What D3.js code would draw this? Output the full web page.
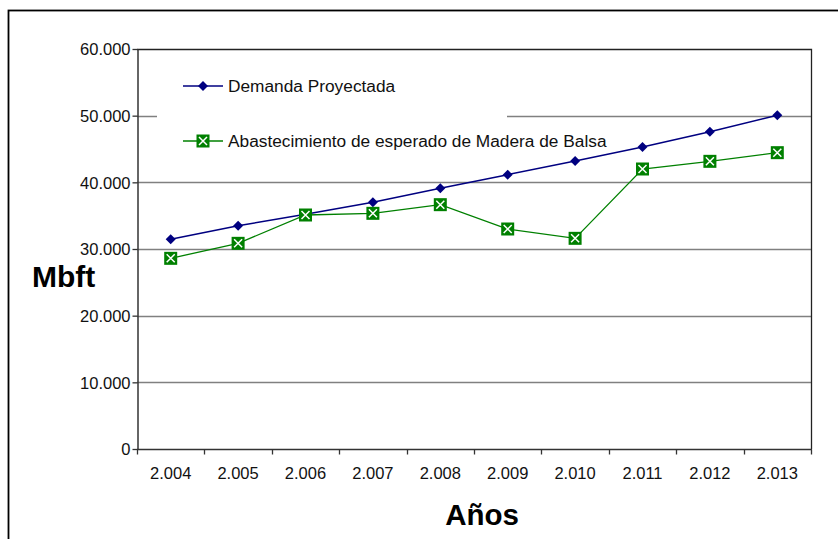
<!DOCTYPE html>
<html>
<head>
<meta charset="utf-8">
<script src="https://cdn.jsdelivr.net/npm/d3@7"></script>
<style>
  html, body { margin: 0; padding: 0; background: #fff; }
  svg { display: block; font-family: "Liberation Sans", Arial, sans-serif; }
</style>
</head>
<body>
<svg id="chart" width="838" height="539"></svg>
<script>
// Years on the category axis
const years = ["2.004", "2.005", "2.006", "2.007", "2.008", "2.009", "2.010", "2.011", "2.012", "2.013"];
// Projected demand (Mbft)
const demanda = [31450, 33500, 35200, 37000, 39100, 41150, 43200, 45300, 47600, 50050];
// Expected balsa wood supply (Mbft)
const abastecimiento = [28600, 30850, 35100, 35350, 36650, 33000, 31600, 42000, 43150, 44450];
// Value axis ticks
const yTicks = [0, 10000, 20000, 30000, 40000, 50000, 60000];
const seriesNames = ["Demanda Proyectada", "Abastecimiento de esperado de Madera de Balsa"];

const svg = d3.select("#chart");
const W = 838, H = 539;
const plot = { left: 137, top: 49, right: 811, bottom: 449 };

// Outer chart frame (runs past the right and bottom edges)
svg.append("rect")
  .attr("x", 8.5).attr("y", 10.5)
  .attr("width", W + 10).attr("height", H + 10)
  .attr("fill", "#fff").attr("stroke", "#000").attr("stroke-width", 1.8);

const x = d3.scaleBand().domain(years).range([plot.left, plot.right]).padding(0);
const y = d3.scaleLinear().domain([0, 60000]).range([plot.bottom, plot.top]);
const fmtY = v => v === 0 ? "0" : (v / 1000).toFixed(0) + ".000";

// Horizontal gridlines
svg.append("g")
  .selectAll("line")
  .data(yTicks.filter(t => t > 0 && t < 60000))
  .join("line")
  .attr("x1", plot.left).attr("x2", plot.right)
  .attr("y1", d => Math.round(y(d)) + 0.5).attr("y2", d => Math.round(y(d)) + 0.5)
  .attr("stroke", "#808080").attr("stroke-width", 1.3);

// Plot area border: top and right edges
svg.append("path")
  .attr("d", `M${plot.left},${plot.top + 0.5}H${plot.right + 0.5}V${plot.bottom}`)
  .attr("fill", "none").attr("stroke", "#222").attr("stroke-width", 1.3);

// Y axis
const yAxis = d3.axisLeft(y).tickValues(yTicks).tickFormat(fmtY).tickSize(5).tickSizeOuter(0);
const gy = svg.append("g").attr("transform", `translate(${plot.left + 0.5},0)`).call(yAxis);
gy.select(".domain").attr("stroke", "#333").attr("stroke-width", 1.5);
gy.selectAll(".tick line").attr("stroke", "#333").attr("stroke-width", 1.3);
gy.selectAll(".tick text")
  .attr("x", -7).attr("dy", "0.36em")
  .attr("font-size", 16.5).attr("fill", "#111")
  .attr("font-family", "Liberation Sans, Arial, sans-serif");

// X axis with ticks on category boundaries
const gx = svg.append("g").attr("transform", `translate(0,${plot.bottom + 0.5})`);
gx.append("line")
  .attr("x1", plot.left).attr("x2", plot.right + 1)
  .attr("stroke", "#333").attr("stroke-width", 1.5);
const bounds = years.map(d => x(d)).concat([plot.right]);
gx.selectAll("line.tk").data(bounds).join("line").attr("class", "tk")
  .attr("x1", d => Math.round(d) + 0.5).attr("x2", d => Math.round(d) + 0.5)
  .attr("y1", 0).attr("y2", 5)
  .attr("stroke", "#333").attr("stroke-width", 1.3);
gx.selectAll("text").data(years).join("text")
  .attr("x", d => x(d) + x.bandwidth() / 2)
  .attr("y", 29)
  .attr("text-anchor", "middle")
  .attr("font-size", 16.5).attr("fill", "#111")
  .text(d => d);

// Legend panel (white, covers gridline)
svg.append("rect")
  .attr("x", 157).attr("y", 62).attr("width", 350).attr("height", 100)
  .attr("fill", "#fff");

const cx = d => x(d) + x.bandwidth() / 2;
const navy = "#000080", green = "#008000";

// Demand and supply lines
const lineD = d3.line().x((d, i) => cx(years[i])).y(d => y(d));
svg.append("path").datum(demanda)
  .attr("d", lineD).attr("fill", "none")
  .attr("stroke", navy).attr("stroke-width", 1.5);
svg.append("path").datum(abastecimiento)
  .attr("d", lineD).attr("fill", "none")
  .attr("stroke", green).attr("stroke-width", 1.3);

const diamond = (g, px, py) => {
  g.append("path")
    .attr("d", `M${px},${py - 5}L${px + 5},${py}L${px},${py + 5}L${px - 5},${py}Z`)
    .attr("fill", navy);
};
const boxX = (g, px, py) => {
  const s = 6.5;
  g.append("rect").attr("x", px - s).attr("y", py - s).attr("width", 2 * s).attr("height", 2 * s)
    .attr("fill", green);
  const k = 4;
  g.append("path")
    .attr("d", `M${px - k},${py - k}L${px + k},${py + k}M${px + k},${py - k}L${px - k},${py + k}`)
    .attr("stroke", "#fff").attr("stroke-width", 1.5).attr("fill", "none");
};

const gm = svg.append("g");
demanda.forEach((v, i) => diamond(gm, cx(years[i]), y(v)));
abastecimiento.forEach((v, i) => boxX(gm, cx(years[i]), y(v)));

// Legend entries
const lg = svg.append("g");
lg.append("line").attr("x1", 183).attr("x2", 223).attr("y1", 86).attr("y2", 86)
  .attr("stroke", navy).attr("stroke-width", 1.5);
diamond(lg, 203, 86);
lg.append("text").attr("x", 228).attr("y", 86).attr("dy", "0.36em")
  .attr("font-size", 17.3).attr("fill", "#111").text(seriesNames[0]);
lg.append("line").attr("x1", 183).attr("x2", 223).attr("y1", 141).attr("y2", 141)
  .attr("stroke", green).attr("stroke-width", 1.3);
boxX(lg, 203, 141);
lg.append("text").attr("x", 228).attr("y", 141).attr("dy", "0.36em")
  .attr("font-size", 17.3).attr("fill", "#111").text(seriesNames[1]);

// Axis titles
svg.append("text").attr("x", 32).attr("y", 287)
  .attr("font-size", 30).attr("font-weight", "bold").attr("fill", "#000")
  .text("Mbft");
svg.append("text").attr("x", 482).attr("y", 525)
  .attr("text-anchor", "middle")
  .attr("font-size", 29.5).attr("font-weight", "bold").attr("fill", "#000")
  .text("Años");
</script>
</body>
</html>
